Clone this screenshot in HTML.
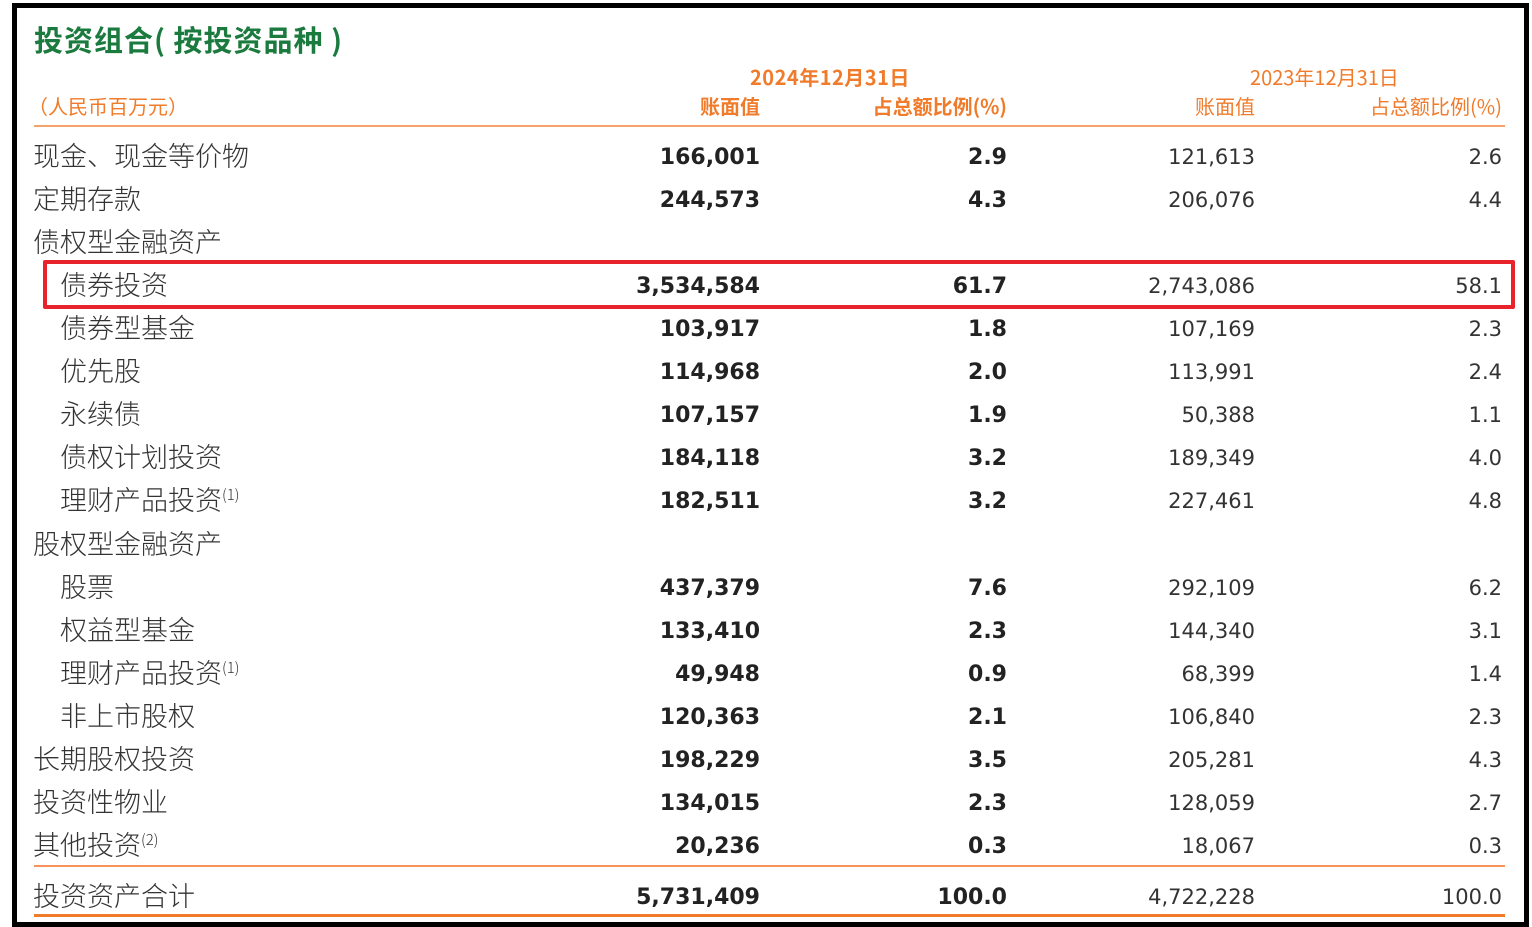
<!DOCTYPE html>
<html><head><meta charset="utf-8"><style>
body{margin:0;width:1532px;height:925px;background:#fff;position:relative;overflow:hidden;font-family:"Liberation Sans","Noto Sans CJK SC",sans-serif;}
.frame{position:absolute;left:12px;top:3px;width:1507px;height:914px;border:5px solid #000;}
.t{position:absolute;white-space:nowrap;line-height:1;}
.title{left:34px;top:25px;font-size:29px;font-weight:bold;color:#1b7a3e;font-family:"Noto Sans CJK SC",sans-serif;letter-spacing:1px;}
.o{color:#f07b2a;font-size:20px;font-family:"Noto Sans CJK SC",sans-serif;}
.lab{font-size:27px;color:#333;font-weight:300;font-family:"Noto Sans CJK SC",sans-serif;}
.num{font-size:21px;color:#333;font-family:"DejaVu Sans",sans-serif;}
.b{font-weight:bold;font-size:22px;color:#222;}
.ob{font-weight:bold;}
.r{text-align:right;}
.line{position:absolute;background:#f4a36c;}
sup{font-size:15px;vertical-align:10px;}
</style></head><body>
<div class="frame"></div>
<div class="t title">投资组合( 按投资品种 )</div>
<div class="t o ob" style="left:750px;top:67px;letter-spacing:0.5px">2024年12月31日</div>
<div class="t o" style="left:1250px;top:67px;">2023年12月31日</div>
<div class="t o" style="left:28px;top:96px;">（人民币百万元）</div>
<div class="t o ob r" style="right:772px;top:96px;">账面值</div>
<div class="t o ob r" style="right:525px;top:96px;">占总额比例(%)</div>
<div class="t o r" style="right:277px;top:96px;">账面值</div>
<div class="t o r" style="right:30px;top:96px;">占总额比例(%)</div>
<div class="line" style="left:34px;top:125px;width:1471px;height:2px;"></div>
<div class="line" style="left:34px;top:865px;width:1471px;height:2px;background:#f7925a"></div>
<div class="line" style="left:34px;top:914px;width:1471px;height:3px;background:#f07b2a"></div>
<div style="position:absolute;left:43px;top:260px;width:1464px;height:41px;border:4px solid #e8232b;border-radius:2px;"></div>
<div id="rows"></div>
<script>
var rows=[
["现金、现金等价物",0,"166,001","2.9","121,613","2.6"],
["定期存款",0,"244,573","4.3","206,076","4.4"],
["债权型金融资产",0],
["债券投资",1,"3,534,584","61.7","2,743,086","58.1"],
["债券型基金",1,"103,917","1.8","107,169","2.3"],
["优先股",1,"114,968","2.0","113,991","2.4"],
["永续债",1,"107,157","1.9","50,388","1.1"],
["债权计划投资",1,"184,118","3.2","189,349","4.0"],
["理财产品投资<sup>(1)</sup>",1,"182,511","3.2","227,461","4.8"],
["股权型金融资产",0],
["股票",1,"437,379","7.6","292,109","6.2"],
["权益型基金",1,"133,410","2.3","144,340","3.1"],
["理财产品投资<sup>(1)</sup>",1,"49,948","0.9","68,399","1.4"],
["非上市股权",1,"120,363","2.1","106,840","2.3"],
["长期股权投资",0,"198,229","3.5","205,281","4.3"],
["投资性物业",0,"134,015","2.3","128,059","2.7"],
["其他投资<sup>(2)</sup>",0,"20,236","0.3","18,067","0.3"]];
var h="";
function row(r,y){
 h+='<div class="t lab" style="left:'+(r[1]?60:33)+'px;top:'+(y-16)+'px">'+r[0]+'</div>';
 if(r.length>2){
 h+='<div class="t num b r" style="right:772px;top:'+(y-10)+'px">'+r[2]+'</div>';
 h+='<div class="t num b r" style="right:525px;top:'+(y-10)+'px">'+r[3]+'</div>';
 h+='<div class="t num r" style="right:277px;top:'+(y-10)+'px">'+r[4]+'</div>';
 h+='<div class="t num r" style="right:30px;top:'+(y-10)+'px">'+r[5]+'</div>';}
}
rows.forEach(function(r,i){row(r,157+i*43.06);});
row(["投资资产合计",0,"5,731,409","100.0","4,722,228","100.0"],897);
document.getElementById("rows").innerHTML=h;
</script>
</body></html>
